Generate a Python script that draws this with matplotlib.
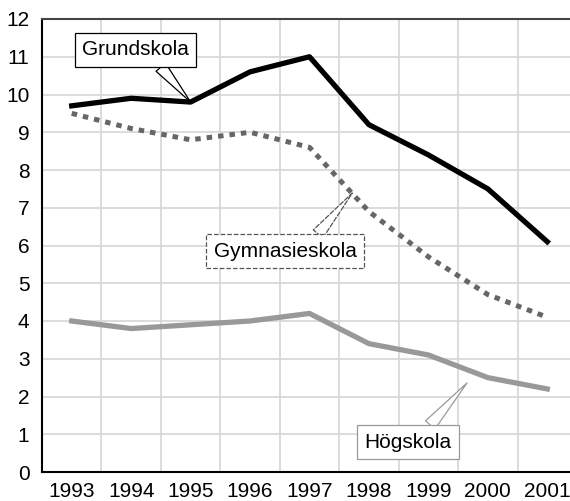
import matplotlib
matplotlib.use("Agg")
import matplotlib.pyplot as plt
import numpy as np

plt.rcParams['font.family'] = ['Liberation Sans', 'DejaVu Sans']

years = ['1993', '1994', '1995', '1996', '1997', '1998', '1999', '2000', '2001']
grundskola = [9.7, 9.9, 9.8, 10.6, 11.0, 9.2, 8.4, 7.5, 6.1]
gymnasieskola = [9.5, 9.1, 8.8, 9.0, 8.6, 6.9, 5.7, 4.7, 4.1]
hogskola = [4.0, 3.8, 3.9, 4.0, 4.2, 3.4, 3.1, 2.5, 2.2]

W, H = 570, 501
fs = 15
fig = plt.figure(figsize=(W / 100, H / 100), dpi=100)
# axes runs a little past the right edge, as in the reference
ax = fig.add_axes([42 / W, 29 / H, (577 - 42) / W, (472 - 19) / H])

x = np.arange(len(years))
ax.plot(x, grundskola, color='black', lw=3.8, zorder=3)
ax.plot(x, gymnasieskola, color='#666666', lw=3.6, linestyle=(0, (1.1, 1.2)),
        dash_capstyle='butt', zorder=3)
ax.plot(x, hogskola, color='#999999', lw=3.8, zorder=3)

ax.set_xlim(-0.5, len(years) - 0.5)
ax.set_ylim(0, 12)
ax.set_yticks(range(0, 13))
ax.set_xticks(x)
ax.set_xticklabels(years)
ax.set_xticks(np.arange(-0.5, len(years)), minor=True)
ax.grid(False)
ax.grid(True, which='minor', axis='x', color='#d6d6d6', lw=1.2)
ax.grid(True, which='major', axis='y', color='#d6d6d6', lw=1.2)
ax.set_axisbelow(True)
ax.tick_params(axis='both', which='both', length=0, labelsize=fs)
ax.tick_params(axis='y', pad=9)
ax.tick_params(axis='x', pad=7)

ax.spines['left'].set_color('black')
ax.spines['bottom'].set_color('black')
ax.spines['left'].set_linewidth(1.5)
ax.spines['bottom'].set_linewidth(1.5)
ax.spines['top'].set_color('#444444')
ax.spines['top'].set_linewidth(1.5)
ax.spines['right'].set_visible(False)

# callout labels
ax.annotate('Grundskola', xy=(2, grundskola[2]), xytext=(1.07, 11.18),
            fontsize=fs, ha='center', va='center', zorder=5,
            bbox=dict(boxstyle='square,pad=0.35', fc='white', ec='black', lw=0.9),
            arrowprops=dict(arrowstyle='wedge,tail_width=0.6', fc='white', ec='black',
                            lw=0.9, relpos=(0.6, 0.5), shrinkA=0, shrinkB=0))
ax.annotate('Gymnasieskola', xy=(4.72, 7.39), xytext=(3.59, 5.85),
            fontsize=fs, ha='center', va='center', zorder=5,
            bbox=dict(boxstyle='square,pad=0.35', fc='white', ec='#555555', lw=0.9, ls='--'),
            arrowprops=dict(arrowstyle='wedge,tail_width=0.6', fc='white', ec='#555555',
                            lw=0.9, ls='--', relpos=(0.63, 0.5), shrinkA=0, shrinkB=0))
ax.annotate('Högskola', xy=(6.65, 2.36), xytext=(5.66, 0.79),
            fontsize=fs, ha='center', va='center', zorder=5,
            bbox=dict(boxstyle='square,pad=0.35', fc='white', ec='#999999', lw=0.9),
            arrowprops=dict(arrowstyle='wedge,tail_width=0.6', fc='white', ec='#999999',
                            lw=0.9, relpos=(0.58, 0.5), shrinkA=0, shrinkB=0))

fig.savefig('out.png', dpi=100)
